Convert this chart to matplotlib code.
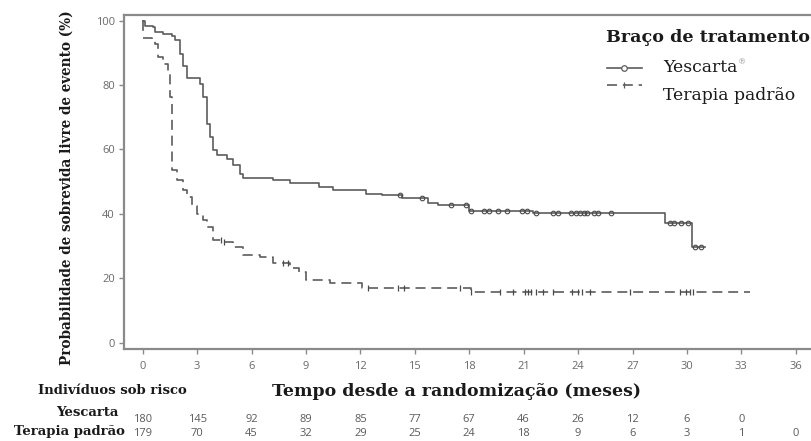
import numpy as np
import matplotlib.pyplot as plt
from matplotlib.lines import Line2D

# Kaplan-Meier step data (months, % event-free)
yes_t = [0, 0.13, 0.57, 0.68, 1.12, 1.6, 1.78, 2.05, 2.22, 2.42, 3.16, 3.32, 3.53, 3.71,
         3.85, 4.08, 4.63, 4.98, 5.36, 5.53, 7.18, 8.1, 9.7, 10.5, 12.3, 13.2, 14.3,
         15.7, 16.3, 18.0, 21.5, 28.8, 30.3, 31.0]
yes_s = [100, 98.5, 98, 96.5, 96, 95.4, 93.9, 89.7, 86, 82.3, 80.4, 76.3, 68, 63.9,
         59.8, 58.2, 57.2, 55.1, 52.5, 51, 50.4, 49.7, 48.4, 47.3, 46.3, 45.8, 44.8,
         43.5, 42.7, 41, 40.3, 37.3, 29.8, 29.8]
yes_cens = [14.2, 15.4, 17.0, 17.8, 18.1, 18.8, 19.1, 19.6, 20.1, 20.9, 21.2, 21.7,
            22.6, 22.9, 23.6, 23.9, 24.1, 24.3, 24.5, 24.9, 25.1, 25.8,
            29.05, 29.3, 29.7, 30.06, 30.43, 30.8]

ter_t = [0, 0.5, 0.68, 0.86, 1.13, 1.41, 1.5, 1.6, 1.87, 2.2, 2.42, 2.7, 2.97, 3.3, 3.53,
         3.87, 4.42, 4.98, 5.53, 6.46, 7.18, 8.1, 8.6, 9.0, 10.3, 12.1, 18.1, 33.5]
ter_s = [94.5, 94.1, 92.8, 88.7, 86.6, 83.5, 76.3, 53.5, 50.4, 47.5, 45.3, 42.5, 40.1,
         38, 36, 31.8, 31.3, 29.8, 27.2, 26.7, 24.7, 23.2, 22, 19.4, 18.4, 16.9, 15.8, 15.8]
ter_cens = [4.3, 4.5, 7.75, 8.0, 12.4, 14.1, 14.4, 17.5, 18.1, 19.7, 20.4, 21.06, 21.25,
            21.43, 21.7, 22.07, 22.6, 23.64, 24.0, 24.2, 24.64, 26.85, 29.6, 29.97,
            30.16, 30.34]

ticks = list(range(0, 37, 3))
risk_yes = [180, 145, 92, 89, 85, 77, 67, 46, 26, 12, 6, 0]
risk_ter = [179, 70, 45, 32, 29, 25, 24, 18, 9, 6, 3, 1, 0]


def step_at(tt, ss, x):
    i = np.searchsorted(tt, x, side='right') - 1
    return np.asarray(ss)[i]


W, H = 812, 441
fig = plt.figure(figsize=(W / 100, H / 100), dpi=100)


def fx(px):
    return px / W


def fy(py):
    return 1 - py / H


ax = fig.add_axes([fx(124), fy(349.3), (823 - 124) / W, (349.3 - 15) / H])
ax.set_xlim(-1.03, 37.5)
ax.set_ylim(-2.1, 101.8)

line_col = '#5c5c5c'
serif = ['DejaVu Serif']
sans = ['Open Sans', 'DejaVu Sans']

ax.step(yes_t, yes_s, where='post', color=line_col, lw=1.2)
ax.plot([0, 0], [100, 97], color=line_col, lw=1.2)
ax.step(ter_t, ter_s, where='post', color=line_col, lw=1.2, dashes=(6, 3.5))

yc = step_at(yes_t, yes_s, yes_cens)
ax.plot(yes_cens, yc, 'o', ms=3.3, mfc='none', mec='#4a4a4a', mew=0.8)
tc = step_at(ter_t, ter_s, ter_cens)
ax.plot(ter_cens, tc, '|', ms=4, color='#4a4a4a', mew=0.9)

for s in ax.spines.values():
    s.set_color('#8a8a8a')
    s.set_linewidth(1.6)

ax.set_xticks(ticks)
ax.set_yticks([0, 20, 40, 60, 80, 100])
ax.tick_params(axis='both', colors='#8a8a8a', labelcolor='#6a6a6a', length=3.5,
               width=1.0, labelsize=8)
for lab in ax.get_xticklabels() + ax.get_yticklabels():
    lab.set_family(sans)
ax.tick_params(axis='x', pad=5)
ax.tick_params(axis='y', pad=3)

txt = '#1a1a1a'
fig.text(fx(67), fy(188), 'Probabilidade de sobrevida livre de evento (%)', rotation=90,
         ha='center', va='center', family=serif, weight='bold', fontsize=9.8, color=txt)
fig.text(fx(457), fy(392), 'Tempo desde a randomização (meses)', ha='center', va='center',
         family=serif, weight='bold', fontsize=12.5, color=txt)
fig.text(fx(38), fy(390), 'Indivíduos sob risco', ha='left', va='center',
         family=serif, weight='bold', fontsize=9.5, color=txt)
fig.text(fx(118), fy(413), 'Yescarta', ha='right', va='center',
         family=serif, weight='bold', fontsize=9.5, color=txt)
fig.text(fx(125), fy(432), 'Terapia padrão', ha='right', va='center',
         family=serif, weight='bold', fontsize=9.5, color=txt)

# numbers at risk, placed under the axis ticks
for x, n in zip(ticks, risk_yes):
    ax.annotate(str(n), xy=(x, 0), xycoords=('data', 'figure fraction'),
                xytext=(0, H - 420), textcoords='offset pixels', ha='center', va='center',
                family=sans, fontsize=8, color='#5a5a5a', annotation_clip=False)
for x, n in zip(ticks, risk_ter):
    ax.annotate(str(n), xy=(x, 0), xycoords=('data', 'figure fraction'),
                xytext=(0, H - 434), textcoords='offset pixels', ha='center', va='center',
                family=sans, fontsize=8, color='#5a5a5a', annotation_clip=False)

# legend
fig.text(fx(606), fy(37), 'Braço de tratamento', ha='left', va='center',
         family=serif, weight='bold', fontsize=12.6, color=txt)
fig.add_artist(Line2D([fx(607), fx(642)], [fy(68), fy(68)], color=line_col, lw=1.2))
fig.add_artist(Line2D([fx(624)], [fy(68)], marker='o', ms=4, mfc='white', mec=line_col,
                      mew=0.9))
fig.add_artist(Line2D([fx(607), fx(642)], [fy(85), fy(85)], color=line_col, lw=1.2,
                      dashes=(6, 3.5)))
fig.add_artist(Line2D([fx(624)], [fy(85)], marker='|', ms=4, color=line_col, mew=0.9))
t1 = fig.text(fx(663), fy(68), 'Yescarta', ha='left', va='center',
              family=serif, fontsize=12.4, color=txt)
fig.text(fx(663), fy(95), 'Terapia padrão', ha='left', va='center',
         family=serif, fontsize=12.4, color=txt)
fig.canvas.draw()
bb = t1.get_window_extent()
fig.text((bb.x1 + 1) / W, fy(62), '®', ha='left', va='center',
         family=serif, fontsize=6, color='#999999')

fig.savefig('out.png', dpi=100)
